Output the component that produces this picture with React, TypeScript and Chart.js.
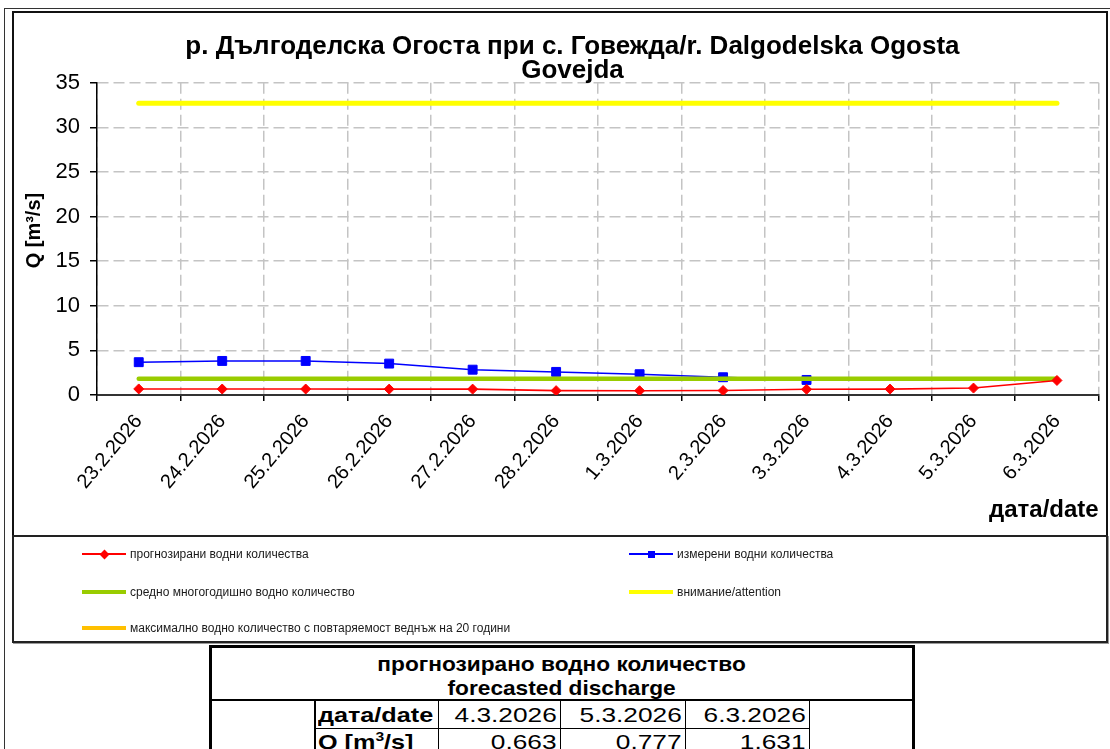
import React, { useEffect, useRef } from "react";
import { Chart, registerables } from "chart.js";

Chart.register(...registerables);

const FONT = '"Liberation Sans", Arial, Helvetica, sans-serif';

const titleLines = ["    р. Дългоделска Огоста при с. Говежда/r. Dalgodelska Ogosta", "    Govejda"];
const categories = [
  "23.2.2026", "24.2.2026", "25.2.2026", "26.2.2026", "27.2.2026", "28.2.2026",
  "1.3.2026", "2.3.2026", "3.3.2026", "4.3.2026", "5.3.2026", "6.3.2026",
];
const forecast = [0.68, 0.67, 0.67, 0.66, 0.66, 0.49, 0.48, 0.5, 0.64, 0.663, 0.777, 1.631];
const measured = [3.68, 3.82, 3.82, 3.52, 2.84, 2.59, 2.33, 1.99, 1.69, null, null, null];
const meanQ = [1.83, 1.83, 1.83, 1.83, 1.83, 1.83, 1.83, 1.83, 1.83, 1.83, 1.83, 1.83];
const attention = [32.7, 32.7, 32.7, 32.7, 32.7, 32.7, 32.7, 32.7, 32.7, 32.7, 32.7, 32.7];
const q20: (number | null)[] = [];
const yMin = 0;
const yMax = 35;
const yStep = 5;

const seriesLabels = [
  "прогнозирани водни количества",
  "измерени водни количества",
  "средно многогодишно водно количество",
  "внимание/attention",
  "максимално водно количество с повтаряемост веднъж на 20 години",
];
const seriesColors = ["#FF0000", "#0000FF", "#99CC00", "#FFFF00", "#FFC000"];

const tableTitle = ["прогнозирано водно количество", "forecasted discharge"];
const tableDates = ["4.3.2026", "5.3.2026", "6.3.2026"];
const tableQ = ["0.663", "0.777", "1.631"];

const abs = (o: React.CSSProperties): React.CSSProperties => ({ position: "absolute", ...o });

function LegendItem({ x, y, idx }: { x: number; y: number; idx: number }) {
  const color = seriesColors[idx];
  const thick = idx >= 2;
  return (
    <>
      <div style={abs({ left: x, top: y - (thick ? 2 : 1), width: 44, height: thick ? 4 : idx === 0 ? 2 : 1.5, background: color })} />
      {idx === 0 && (
        <div style={abs({ left: x + 22 - 3.5, top: y - 3.5, width: 7, height: 7, background: color, transform: "rotate(45deg)" })} />
      )}
      {idx === 1 && <div style={abs({ left: x + 22 - 3.5, top: y - 3.5, width: 7, height: 7, background: color })} />}
      <div style={abs({ left: x + 48, top: y - 8, height: 16, lineHeight: "16px", fontSize: 12, color: "#1a1a1a", whiteSpace: "nowrap" })}>
        {seriesLabels[idx]}
      </div>
    </>
  );
}

function Stretch({ children, sx, origin }: { children: React.ReactNode; sx: number; origin: string }) {
  return (
    <span style={{ display: "inline-block", transform: `scaleX(${sx})`, transformOrigin: origin, whiteSpace: "nowrap" }}>
      {children}
    </span>
  );
}

export default function App() {
  const ref = useRef<HTMLCanvasElement>(null);

  useEffect(() => {
    if (!ref.current) return;
    const gridColor = "#c4c4c4";
    const chart = new Chart(ref.current, {
      type: "line",
      data: {
        labels: categories,
        datasets: [
          {
            label: seriesLabels[0],
            data: forecast,
            borderColor: seriesColors[0],
            backgroundColor: seriesColors[0],
            pointBackgroundColor: seriesColors[0],
            pointBorderColor: seriesColors[0],
            borderWidth: 1.6,
            pointStyle: "rectRot",
            pointRadius: 5,
            pointBorderWidth: 1,
            tension: 0,
            order: 0,
          },
          {
            label: seriesLabels[1],
            data: measured,
            borderColor: seriesColors[1],
            backgroundColor: seriesColors[1],
            pointBackgroundColor: seriesColors[1],
            pointBorderColor: seriesColors[1],
            borderWidth: 1.5,
            pointStyle: "rect",
            pointRadius: 6.3,
            pointBorderWidth: 1,
            tension: 0,
            order: 2,
          },
          {
            label: seriesLabels[2],
            data: meanQ,
            borderColor: seriesColors[2],
            backgroundColor: seriesColors[2],
            borderWidth: 4.5,
            borderCapStyle: "round",
            pointRadius: 0,
            order: 1,
          },
          {
            label: seriesLabels[3],
            data: attention,
            borderColor: seriesColors[3],
            backgroundColor: seriesColors[3],
            borderWidth: 5,
            borderCapStyle: "round",
            pointRadius: 0,
            order: 3,
          },
          {
            label: seriesLabels[4],
            data: q20,
            borderColor: seriesColors[4],
            backgroundColor: seriesColors[4],
            borderWidth: 4,
            pointRadius: 0,
            order: 4,
          },
        ],
      },
      options: {
        animation: false,
        responsive: false,
        maintainAspectRatio: false,
        events: [],
        layout: { padding: { left: 0, right: 4, top: 0, bottom: 0 } },
        plugins: {
          legend: { display: false },
          tooltip: { enabled: false },
          title: {
            display: true,
            text: titleLines,
            color: "#000",
            font: { family: FONT, size: 26, weight: "bold", lineHeight: 0.92 },
            padding: { top: 23, bottom: 0 },
          },
        },
        scales: {
          x: {
            type: "category",
            offset: true,
            grid: {
              offset: true,
              color: gridColor,
              lineWidth: 1.5,
              tickLength: 6,
              tickColor: "#000",
              tickWidth: 1.5,
            },
            border: { display: true, color: "#333", width: 2, dash: [11, 5] },
            ticks: {
              autoSkip: false,
              maxRotation: 50,
              minRotation: 50,
              padding: 9,
              color: "#000",
              font: { family: FONT, size: 20 },
            },
            title: {
              display: true,
              text: "дата/date",
              align: "end",
              color: "#000",
              font: { family: FONT, size: 24, weight: "bold", lineHeight: 1.2 },
              padding: { top: 0, bottom: 10.6 },
            },
            afterFit: (s: any) => {
              s.height = 140;
            },
          },
          y: {
            min: yMin,
            max: yMax,
            grid: {
              color: gridColor,
              lineWidth: 1.5,
              tickLength: 7,
              tickColor: "#000",
              tickWidth: 1.5,
            },
            border: { display: true, color: "#000", width: 1.5, dash: [11, 5] },
            ticks: {
              stepSize: yStep,
              padding: 10,
              color: "#000",
              font: { family: FONT, size: 22 },
            },
            title: {
              display: true,
              text: "   Q [m³/s]",
              color: "#000",
              font: { family: FONT, size: 20, weight: "bold", lineHeight: 1.2 },
              padding: { top: 8, bottom: 0 },
            },
            afterFit: (s: any) => {
              s.width = 83;
            },
          },
        },
      },
    } as any);
    return () => chart.destroy();
  }, []);

  const rowY = [554, 592, 628];
  const cellL = [438, 560, 685];
  const cellR = [560, 685, 809];
  return (
    <div style={abs({ left: 0, top: 0, width: 1110, height: 749, overflow: "hidden", background: "#fff", fontFamily: FONT, color: "#000" })}>
      {/* outer frame */}
      <div style={abs({ left: 4, top: 8, width: 1120, height: 800, borderLeft: "1.5px solid #333", borderTop: "1.5px solid #333" })} />
      {/* chart canvas */}
      <div style={abs({ left: 14, top: 12, width: 1092, height: 523 })}>
        <canvas ref={ref} width={1092} height={523} style={{ display: "block", width: 1092, height: 523 }} />
      </div>
      {/* chart frame */}
      <div style={abs({ left: 12, top: 11, width: 1092, height: 522, border: "2px solid #111" })} />
      {/* legend box */}
      <div style={abs({ left: 12, top: 535, width: 1092, height: 104, border: "2px solid #222", boxShadow: "1px 1px 0 #999", background: "#fff" })} />
      <LegendItem x={82} y={rowY[0]} idx={0} />
      <LegendItem x={629} y={rowY[0]} idx={1} />
      <LegendItem x={82} y={rowY[1]} idx={2} />
      <LegendItem x={629} y={rowY[1]} idx={3} />
      <LegendItem x={82} y={rowY[2]} idx={4} />

      {/* table */}
      <div style={abs({ left: 209, top: 645, width: 700, height: 130, border: "3px solid #000", background: "#fff" })} />
      {tableTitle.map((t, i) => (
        <div key={t} style={abs({ left: 212, width: 700, top: 664 + i * 24 - 12, height: 24, lineHeight: "24px", textAlign: "center", fontWeight: "bold", fontSize: 21 })}>
          <Stretch sx={1.08} origin="center">{t}</Stretch>
        </div>
      ))}
      <div style={abs({ left: 212, top: 699, width: 700, height: 2, background: "#000" })} />
      <div style={abs({ left: 314, top: 701, width: 2, height: 60, background: "#000" })} />
      <div style={abs({ left: 316, top: 728, width: 493, height: 1, background: "#000" })} />
      {[438, 560, 685, 809].map((x) => (
        <div key={x} style={abs({ left: x, top: 701, width: 1, height: 60, background: "#000" })} />
      ))}
      <div style={abs({ left: 318, top: 702, height: 26, lineHeight: "26px", fontWeight: "bold", fontSize: 21 })}>
        <Stretch sx={1.2} origin="left">дата/date</Stretch>
      </div>
      <div style={abs({ left: 318, top: 729, height: 26, lineHeight: "26px", fontWeight: "bold", fontSize: 21 })}>
        <Stretch sx={1.2} origin="left">
          Q [m<sup style={{ fontSize: 13, lineHeight: 0 }}>3</sup>/s]
        </Stretch>
      </div>
      {tableDates.map((d, i) => (
        <React.Fragment key={d}>
          <div style={abs({ left: cellL[i], width: cellR[i] - cellL[i] - 3, top: 702, height: 26, lineHeight: "26px", textAlign: "right", fontSize: 21 })}>
            <Stretch sx={1.25} origin="right">{d}</Stretch>
          </div>
          <div style={abs({ left: cellL[i], width: cellR[i] - cellL[i] - 3, top: 729, height: 26, lineHeight: "26px", textAlign: "right", fontSize: 21 })}>
            <Stretch sx={1.25} origin="right">{tableQ[i]}</Stretch>
          </div>
        </React.Fragment>
      ))}
    </div>
  );
}
